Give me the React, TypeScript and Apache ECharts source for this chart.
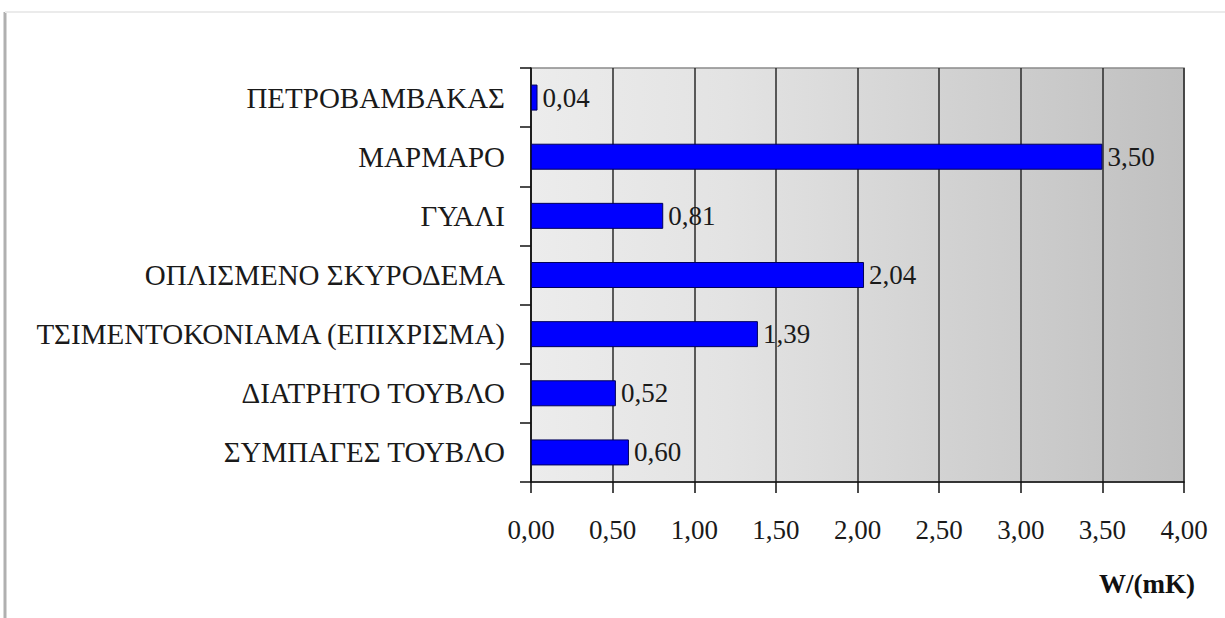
import React, { useEffect, useRef } from "react";
import * as echarts from "echarts";

// Thermal conductivity of building materials, W/(mK)
const materials = [
  "ΠΕΤΡΟΒΑΜΒΑΚΑΣ",
  "ΜΑΡΜΑΡΟ",
  "ΓΥΑΛΙ",
  "ΟΠΛΙΣΜΕΝΟ ΣΚΥΡΟΔΕΜΑ",
  "ΤΣΙΜΕΝΤΟΚΟΝΙΑΜΑ (ΕΠΙΧΡΙΣΜΑ)",
  "ΔΙΑΤΡΗΤΟ ΤΟΥΒΛΟ",
  "ΣΥΜΠΑΓΕΣ ΤΟΥΒΛΟ",
];
const conductivity = [0.04, 3.5, 0.81, 2.04, 1.39, 0.52, 0.6];
const unitLabel = "W/(mK)";

const serif = "Liberation Serif";
const fmt = (v: number) => v.toFixed(2).replace(".", ",");

// rich-text styles so the serif face is carried by each label run
const numStyle = { fontFamily: serif, fontSize: 27, color: "#1a1a1a" };
const catStyle = { fontFamily: serif, fontSize: 29, color: "#1a1a1a" };

export default function App() {
  const ref = useRef<HTMLDivElement>(null);

  useEffect(() => {
    document.body.style.margin = "0";
    const chart = echarts.init(ref.current!, null, { renderer: "svg" });
    chart.setOption({
      animation: false,
      backgroundColor: "#ffffff",
      textStyle: { fontFamily: serif },
      grid: {
        left: 531,
        right: 41,
        top: 68,
        bottom: 136,
        show: true,
        borderColor: "#8a8a8a",
        borderWidth: 1.5,
        backgroundColor: new echarts.graphic.LinearGradient(0, 0, 1, 0, [
          { offset: 0, color: "#ececec" },
          { offset: 0.3, color: "#e3e3e3" },
          { offset: 1, color: "#c0c0c0" },
        ]),
      },
      xAxis: {
        type: "value",
        min: 0,
        max: 4,
        interval: 0.5,
        axisLine: { show: true, lineStyle: { color: "#111", width: 1.5 } },
        axisTick: { show: true, length: 11, lineStyle: { color: "#111", width: 1.5 } },
        splitLine: { show: true, lineStyle: { color: "#2a2a2a", width: 1.5 } },
        axisLabel: {
          margin: 34,
          ...numStyle,
          formatter: (v: number) => `{n|${fmt(v)}}`,
          rich: { n: numStyle },
        },
      },
      yAxis: {
        type: "category",
        inverse: true,
        data: materials,
        axisLine: { show: true, lineStyle: { color: "#111", width: 1.5 } },
        axisTick: { show: true, length: 11, lineStyle: { color: "#111", width: 1.5 } },
        axisLabel: {
          margin: 26,
          ...catStyle,
          formatter: (v: string) => `{c|${v}}`,
          rich: { c: catStyle },
        },
      },
      series: [
        {
          type: "bar",
          data: conductivity,
          barWidth: 26,
          itemStyle: { color: "#0000ff", borderColor: "#00005a", borderWidth: 1 },
          label: {
            show: true,
            position: "right",
            distance: 5,
            ...numStyle,
            formatter: (p: any) => `{n|${fmt(p.value)}}`,
            rich: { n: numStyle },
          },
        },
      ],
      graphic: [
        {
          type: "line",
          shape: { x1: 5, y1: 12, x2: 5, y2: 618 },
          style: { stroke: "#b0b0b0", lineWidth: 3 },
        },
        {
          type: "line",
          shape: { x1: 5, y1: 12, x2: 1225, y2: 12 },
          style: { stroke: "#ebebeb", lineWidth: 2 },
        },
        {
          type: "text",
          right: 30,
          top: 570,
          style: {
            text: unitLabel,
            fontFamily: serif,
            fontWeight: "bold",
            fontSize: 27,
            fill: "#111",
          },
        },
      ],
    });
    return () => chart.dispose();
  }, []);

  return <div ref={ref} style={{ width: 1225, height: 618 }} />;
}
